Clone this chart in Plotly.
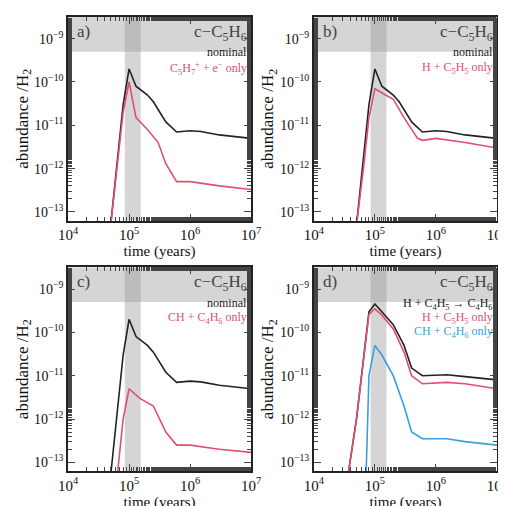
import plotly.graph_objects as go
from plotly.subplots import make_subplots

# time (years) and abundances
t_nom = [5.0e4, 6.5e4, 8.0e4, 1.0e5, 1.3e5, 2.0e5, 2.5e5, 4.0e5, 6.0e5, 1.0e6, 1.5e6, 3.0e6, 1.0e7]
nominal = [5e-14, 1.5e-12, 3e-11, 2e-10, 8e-11, 5e-11, 3.5e-11, 1.2e-11, 7e-12, 7.5e-12, 7.2e-12, 6e-12, 5e-12]

t_a = [5.0e4, 6.5e4, 8.0e4, 1.0e5, 1.3e5, 2.0e5, 3.0e5, 4.0e5, 6.0e5, 1.0e6, 3.0e6, 1.0e7]
red_a = [5e-14, 1.2e-12, 2e-11, 1e-10, 1.5e-11, 8e-12, 4e-12, 1.3e-12, 5e-13, 5e-13, 4e-13, 3.3e-13]

t_b = [5.0e4, 6.5e4, 8.0e4, 1.0e5, 1.5e5, 2.0e5, 3.0e5, 5.0e5, 6.0e5, 1.0e6, 3.0e6, 1.0e7]
red_b = [5e-14, 1e-12, 1.5e-11, 7e-11, 5e-11, 4e-11, 1.5e-11, 5e-12, 4.5e-12, 5e-12, 4e-12, 3e-12]

t_c = [6.5e4, 8.0e4, 1.0e5, 1.5e5, 2.5e5, 4.0e5, 6.0e5, 1.0e6, 3.0e6, 1.0e7]
red_c = [6e-14, 1e-12, 5e-12, 3e-12, 2e-12, 5e-13, 2.5e-13, 2.5e-13, 2e-13, 1.7e-13]

t_d = [3.7e4, 5.0e4, 8.0e4, 1.0e5, 1.3e5, 2.0e5, 3.0e5, 4.0e5, 6.0e5, 1.5e6, 3.0e6, 1.0e7]
black_d = [6e-14, 1e-12, 3e-10, 4.5e-10, 3e-10, 1.5e-10, 5e-11, 1.5e-11, 1e-11, 1.05e-11, 9.5e-12, 8e-12]
red_d = [6e-14, 1e-12, 2.6e-10, 3.5e-10, 2.5e-10, 1.2e-10, 3.5e-11, 1e-11, 6.5e-12, 7e-12, 6.5e-12, 5e-12]
t_blue = [7.2e4, 8.0e4, 1.0e5, 1.3e5, 2.0e5, 3.0e5, 4.0e5, 6.0e5, 1.5e6, 3.0e6, 1.0e7]
blue_d = [6e-14, 1e-11, 5e-11, 3e-11, 1e-11, 2e-12, 5e-13, 3.5e-13, 3.5e-13, 3e-13, 2.5e-13]

panel_labels = ["a)", "b)", "c)", "d)"]
xtick_vals = [1e4, 1e5, 1e6, 1e7]
xtick_text = ["10<sup>4</sup>", "10<sup>5</sup>", "10<sup>6</sup>", "10<sup>7</sup>"]
ytick_vals = [1e-13, 1e-12, 1e-11, 1e-10, 1e-9]
ytick_text = ["10<sup>−13</sup>", "10<sup>−12</sup>", "10<sup>−11</sup>", "10<sup>−10</sup>", "10<sup>−9</sup>"]

BLACK = "#222222"
RED = "#e0506e"
BLUE = "#3a9ee0"
FONT = "Liberation Serif"

fig = make_subplots(rows=2, cols=2, horizontal_spacing=0.146, vertical_spacing=0.103)

series = [
    (1, 1, [(t_nom, nominal, BLACK), (t_a, red_a, RED)]),
    (1, 2, [(t_nom, nominal, BLACK), (t_b, red_b, RED)]),
    (2, 1, [(t_nom, nominal, BLACK), (t_c, red_c, RED)]),
    (2, 2, [(t_d, black_d, BLACK), (t_d, red_d, RED), (t_blue, blue_d, BLUE)]),
]
for r, c, lines in series:
    for x, y, col in lines:
        fig.add_trace(go.Scatter(x=x, y=y, mode="lines", line=dict(color=col, width=1.6),
                                 showlegend=False), row=r, col=c)

legends = [
    [("nominal", BLACK), ("C<sub>5</sub>H<sub>7</sub><sup>+</sup> + e<sup>−</sup> only", RED)],
    [("nominal", BLACK), ("H + C<sub>5</sub>H<sub>5</sub> only", RED)],
    [("nominal", BLACK), ("CH + C<sub>4</sub>H<sub>6</sub> only", RED)],
    [("H + C<sub>4</sub>H<sub>5</sub> → C<sub>4</sub>H<sub>6</sub>", BLACK),
     ("H + C<sub>5</sub>H<sub>5</sub> only", RED), ("CH + C<sub>4</sub>H<sub>6</sub> only", BLUE)],
]

for i in range(4):
    r, c = i // 2 + 1, i % 2 + 1
    xa = "x" if i == 0 else f"x{i+1}"
    ya = "y" if i == 0 else f"y{i+1}"
    fig.add_shape(type="rect", xref=f"{xa} domain", yref=ya, x0=0, x1=1, y0=5e-10, y1=4e-9,
                  fillcolor="rgba(150,150,150,0.4)", line_width=0, layer="below")
    fig.add_shape(type="rect", xref=xa, yref=f"{ya} domain", x0=8.5e4, x1=1.55e5, y0=0, y1=1,
                  fillcolor="rgba(150,150,150,0.4)", line_width=0, layer="below")
    fig.add_annotation(xref=f"{xa} domain", yref=f"{ya} domain", x=0.04, y=0.985, xanchor="left",
                       yanchor="top", text=panel_labels[i], showarrow=False,
                       font=dict(family=FONT, size=17, color="#444"))
    fig.add_annotation(xref=f"{xa} domain", yref=f"{ya} domain", x=0.99, y=0.985, xanchor="right",
                       yanchor="top", text="c−C<sub>5</sub>H<sub>6</sub>", showarrow=False,
                       font=dict(family=FONT, size=17, color="#444"))
    for k, (txt, col) in enumerate(legends[i]):
        fig.add_annotation(xref=f"{xa} domain", yref=f"{ya} domain", x=0.99, y=0.87 - 0.07 * k,
                           xanchor="right", yanchor="top", text=txt, showarrow=False,
                           font=dict(family=FONT, size=12, color=col))
    fig.update_xaxes(type="log", range=[4, 7], tickvals=xtick_vals, ticktext=xtick_text,
                     ticks="inside", ticklen=7, mirror="allticks", showline=True, linecolor="#222",
                     linewidth=1.5, showgrid=False, zeroline=False,
                     minor=dict(ticks="inside", ticklen=4, showgrid=False),
                     tickfont=dict(family=FONT, size=15, color="#111"),
                     title=dict(text="time (years)", standoff=0,
                                font=dict(family=FONT, size=15, color="#111")), row=r, col=c)
    fig.update_yaxes(type="log", range=[-13.2, -8.5], tickvals=ytick_vals, ticktext=ytick_text,
                     ticks="inside", ticklen=7, mirror="allticks", showline=True, linecolor="#222",
                     linewidth=1.5, showgrid=False, zeroline=False,
                     minor=dict(ticks="inside", ticklen=4, showgrid=False),
                     tickfont=dict(family=FONT, size=14, color="#111"),
                     title=dict(text="abundance /H<sub>2</sub>", standoff=0,
                                font=dict(family=FONT, size=17, color="#111")), row=r, col=c)

fig.update_layout(width=506, height=506, margin=dict(l=60, r=16, t=7, b=43),
                  plot_bgcolor="white", paper_bgcolor="white")
fig.write_html("out.html")
